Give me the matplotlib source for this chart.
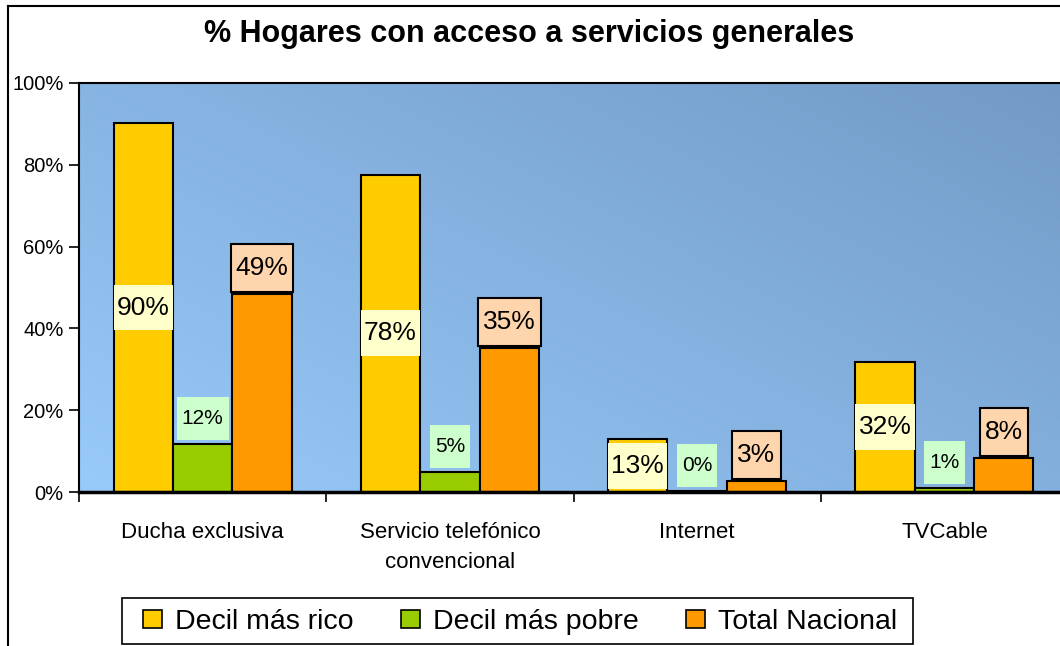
import matplotlib
matplotlib.use("Agg")
import matplotlib.pyplot as plt
from matplotlib.patches import Rectangle
from matplotlib.lines import Line2D
from matplotlib.transforms import IdentityTransform
from matplotlib.ticker import FixedLocator, FuncFormatter
import numpy as np

plt.rcParams['font.family'] = ['Liberation Sans', 'DejaVu Sans']

# data
categories = ["Ducha exclusiva", "Servicio telefónico\nconvencional", "Internet", "TVCable"]
series_names = ["Decil más rico", "Decil más pobre", "Total Nacional"]
rico = [90.2, 77.6, 12.9, 31.8]
pobre = [11.8, 4.9, 0.3, 1.0]
nacional = [48.5, 35.3, 2.6, 8.3]
rico_labels = ["90%", "78%", "13%", "32%"]
pobre_labels = ["12%", "5%", "0%", "1%"]
nacional_labels = ["49%", "35%", "3%", "8%"]
title = "% Hogares con acceso a servicios generales"

colors = ["#FFCC00", "#99CC00", "#FF9900"]
W, H, DPI = 1060, 646, 100

fig = plt.figure(figsize=(W / DPI, H / DPI), dpi=DPI)
ax = fig.add_axes([79 / W, 1 - 492 / H, 989 / W, 409 / H])

# gradient background of the plot area
gx, gy = np.meshgrid(np.linspace(0, 1, 200), np.linspace(0, 1, 200))
t = np.clip(0.55 * gx + 0.45 * gy, 0, 1)[..., None]
c0 = np.array([152, 202, 250]) / 255.0
c1 = np.array([114, 154, 198]) / 255.0
grad = c0 * (1 - t) + c1 * t
ax.imshow(grad, extent=[0, 1, 0, 1], transform=ax.transAxes, origin="lower",
          aspect="auto", zorder=0, interpolation="bilinear")

x = np.arange(len(categories))
w = 0.24
for i, (vals, col, name) in enumerate(zip([rico, pobre, nacional], colors, series_names)):
    ax.bar(x + (i - 1) * w, vals, w, color=col, edgecolor="black", linewidth=1.5,
           label=name, zorder=2)

ax.set_xlim(-0.5, len(categories) - 0.5)
ax.set_ylim(0, 100)

ax.yaxis.set_major_locator(FixedLocator([0, 20, 40, 60, 80, 100]))
ax.yaxis.set_major_formatter(FuncFormatter(lambda v, p: f"{v:.0f}%"))
ax.tick_params(axis="y", direction="out", length=7, width=1.2, pad=4, labelsize=14.5)
ax.set_xticks(x)
ax.set_xticklabels(categories, fontsize=16, linespacing=1.55)
ax.tick_params(axis="x", which="major", length=0, pad=21.5)
ax.set_xticks(np.arange(len(categories) + 1) - 0.5, minor=True)
ax.tick_params(axis="x", which="minor", direction="out", length=7, width=1.2)

for s in ["left", "top"]:
    ax.spines[s].set_linewidth(1.5)
ax.spines["bottom"].set_linewidth(2.5)
ax.spines["right"].set_visible(False)

# yellow labels: box the width of the bar, centred in the bar
for xi, v, lab in zip(x, rico, rico_labels):
    ax.add_patch(Rectangle((xi - 1.5 * w, v / 2 - 5.6), w, 11.2, facecolor="#FFFFCC",
                           edgecolor="none", zorder=3))
    ax.text(xi - w, v / 2, lab, ha="center", va="center", fontsize=19, zorder=4)

# green and orange labels sit above their bars
fig.canvas.draw()
renderer = fig.canvas.get_renderer()


def boxed_label(xc, v, lab, size, gap, box_h, fc, ec):
    xd, y0 = ax.transData.transform((xc, v))
    yc = y0 + gap + box_h / 2
    txt = ax.annotate(lab, (xc, v), xytext=(0, (gap + box_h / 2) * 72 / DPI),
                      textcoords="offset points", ha="center", va="center",
                      fontsize=size, zorder=6, annotation_clip=False)
    bb = txt.get_window_extent(renderer)
    bw = bb.width + 10
    r = Rectangle((xd - bw / 2, yc - box_h / 2), bw, box_h, transform=IdentityTransform(),
                  facecolor=fc, edgecolor=ec, linewidth=1.5, zorder=5, clip_on=False)
    ax.add_artist(r)


for xi, v, lab in zip(x, pobre, pobre_labels):
    boxed_label(xi, v, lab, 15, 4, 43, "#CCFFCC", "none")
for xi, v, lab in zip(x, nacional, nacional_labels):
    boxed_label(xi + w, v, lab, 19, 2, 48, "#FFD5AD", "black")

fig.text(529.5 / W, 1 - 34 / H, title, ha="center", va="center",
         fontsize=22, fontweight="bold")

# outer chart border (right and bottom edges fall outside the picture)
fig.add_artist(Line2D([8 / W, 8 / W], [0, 1 - 6 / H], transform=fig.transFigure,
                      color="black", linewidth=1.5))
fig.add_artist(Line2D([8 / W, 1], [1 - 6 / H, 1 - 6 / H], transform=fig.transFigure,
                      color="black", linewidth=1.5))

# legend: entries without frame, frame drawn separately
fs_leg = 20.5
leg = fig.legend(loc="center left", bbox_to_anchor=(143 / W, 1 - 622 / H), ncol=3,
                 fontsize=fs_leg, frameon=False, handlelength=0.67, handleheight=0.63,
                 handletextpad=0.46, columnspacing=1.65, borderpad=0, borderaxespad=0)
for h in leg.legend_handles:
    h.set_linewidth(1.2)
fig.add_artist(Rectangle((122 / W, 1 - 644 / H), 791 / W, 46 / H, transform=fig.transFigure,
                         facecolor="none", edgecolor="black", linewidth=1.2))

fig.savefig("out.png", dpi=DPI)
